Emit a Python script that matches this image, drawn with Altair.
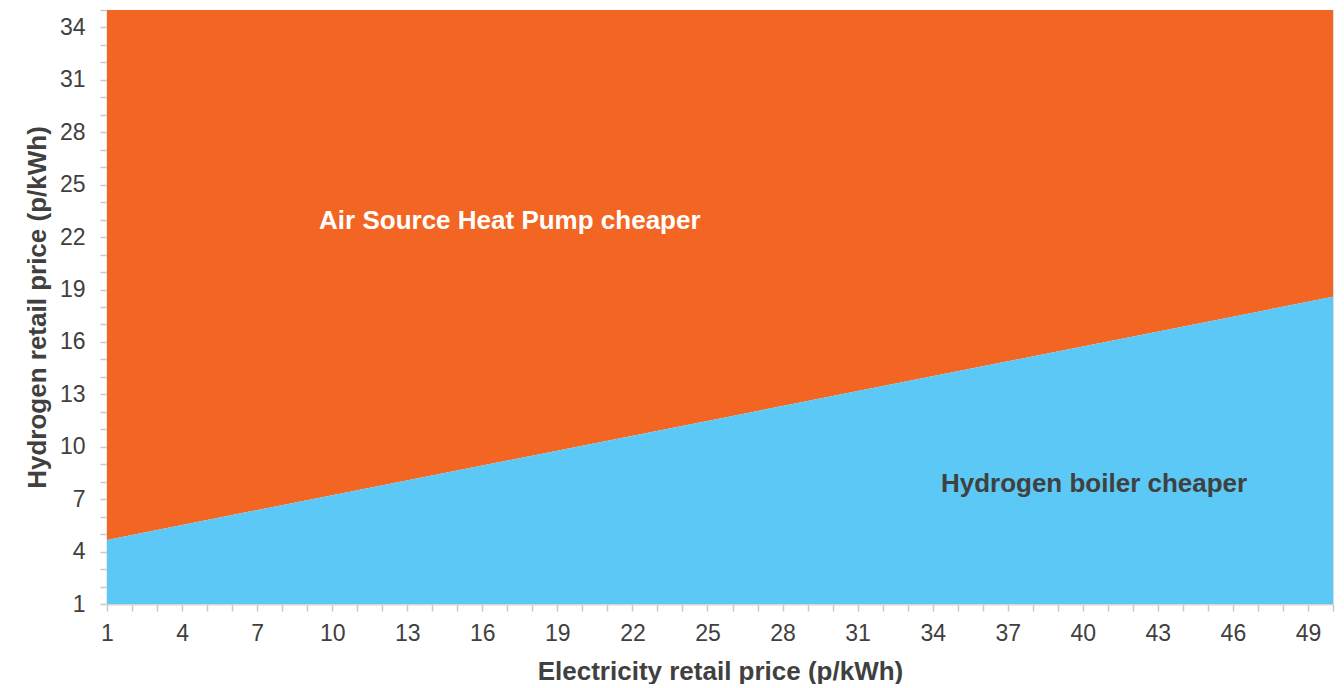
import altair as alt
import pandas as pd

# Data
elec_price = [1, 50]            # p/kWh, x extent
h2_breakeven = [4.67, 18.58]    # p/kWh, break-even hydrogen price
y_top = [35, 35]
y_bottom = [1, 1]

label_text = ["Air Source Heat Pump cheaper", "Hydrogen boiler cheaper"]
label_x = [17.1, 40.45]
label_y = [22.9, 7.87]
label_color = ["#ffffff", "#404040"]

x_ticks = list(range(1, 51))
y_ticks = list(range(1, 36))

df = pd.DataFrame({"x": elec_price, "h": h2_breakeven, "top": y_top, "bot": y_bottom})
lab = pd.DataFrame({"t": label_text, "x": label_x, "y": label_y, "c": label_color})

xscale = alt.Scale(domain=[1, 50], nice=False, zero=False)
yscale = alt.Scale(domain=[1, 35], nice=False, zero=False)

common_axis = dict(
    labelFont="Liberation Sans", labelFontSize=23, labelColor="#404040",
    titleFont="Liberation Sans", titleFontSize=26, titleFontWeight="bold", titleColor="#404040",
    domainColor="#d4d4d4", domainWidth=2, tickColor="#c8c8c8", tickSize=7, tickWidth=1.5,
    grid=False, labelOverlap=False, labelBound=False,
)

xaxis = alt.Axis(title="Electricity retail price (p/kWh)", values=x_ticks,
                 labelExpr="(datum.value - 1) % 3 == 0 ? datum.label : ''",
                 labelPadding=11, titlePadding=13, labelFlush=False, **common_axis)
yaxis = alt.Axis(title="Hydrogen retail price (p/kWh)", values=y_ticks,
                 labelExpr="(datum.value - 1) % 3 == 0 && datum.value <= 34 ? datum.label : ''",
                 labelPadding=15, titlePadding=9, **common_axis)

base = alt.Chart(df)

orange = base.mark_area(color="#F26522", opacity=1).encode(
    x=alt.X("x:Q", scale=xscale, axis=xaxis),
    y=alt.Y("h:Q", scale=yscale, axis=yaxis),
    y2="top:Q",
)
blue = base.mark_area(color="#5BC8F5", opacity=1).encode(
    x=alt.X("x:Q", scale=xscale, axis=xaxis),
    y=alt.Y("bot:Q", scale=yscale, axis=yaxis),
    y2="h:Q",
)
texts = alt.Chart(lab).mark_text(font="Liberation Sans", fontSize=26, fontWeight="bold",
                                 align="center", baseline="middle").encode(
    x=alt.X("x:Q", scale=xscale, axis=xaxis),
    y=alt.Y("y:Q", scale=yscale, axis=yaxis),
    text="t:N",
    color=alt.Color("c:N", scale=None),
)

chart = alt.layer(orange, blue, texts).resolve_axis(x="shared", y="shared").properties(
    width=1226, height=594,
    autosize=alt.AutoSizeParams(type="none"),
    padding={"left": 99, "top": 2, "right": 3, "bottom": 80},
).configure_view(stroke=None).configure(background="#ffffff")

chart.save("out.html", embed_options={"renderer": "svg", "actions": False})
